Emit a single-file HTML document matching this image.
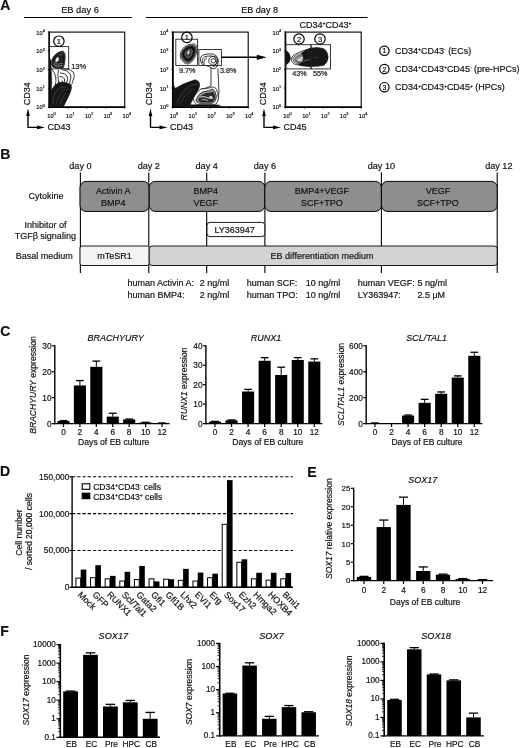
<!DOCTYPE html>
<html><head><meta charset="utf-8"><title>Figure</title>
<style>
html,body{margin:0;padding:0;background:#fff;}
body{width:520px;height:748px;overflow:hidden;font-family:"Liberation Sans",sans-serif;}
svg{display:block;will-change:transform;font-family:"Liberation Sans",sans-serif;fill:#000;}
svg text{fill:#111;stroke:#111;stroke-width:0.18px;}
</style></head><body>
<svg width="520" height="748" viewBox="0 0 520 748">
<defs>
<clipPath id="c1"><rect x="49.4" y="32.1" width="75.7" height="74.9"/></clipPath>
<clipPath id="c2"><rect x="173.0" y="32.1" width="75.2" height="74.9"/></clipPath>
<clipPath id="c3"><rect x="285.6" y="32.1" width="75.6" height="74.9"/></clipPath>
</defs>
<rect width="520" height="748" fill="#fff"/>
<g id="panelA">
<text x="0.2" y="10.1" text-anchor="start" style="font-size:14px;font-weight:bold;">A</text>
<text x="80" y="13" text-anchor="middle" style="font-size:9.3px;">EB day 6</text>
<text x="259.6" y="13" text-anchor="middle" style="font-size:9.1px;">EB day 8</text>
<line x1="24" y1="17.5" x2="132" y2="17.5" stroke="#000" stroke-width="1"/>
<line x1="146" y1="17.5" x2="367.5" y2="17.5" stroke="#000" stroke-width="1"/>
<rect x="49.40" y="32.10" width="75.30" height="74.90" fill="none" stroke="#000" stroke-width="1.1" rx="0"/>
<line x1="49.15" y1="31.6" x2="49.15" y2="107.9" stroke="#000" stroke-width="1.6"/>
<line x1="48.4" y1="107.25" x2="125.19999999999999" y2="107.25" stroke="#000" stroke-width="1.6"/>
<line x1="47.8" y1="107.0" x2="49.4" y2="107.0" stroke="#000" stroke-width="0.8"/>
<text x="44.8" y="109.4" text-anchor="end" style="font-size:5.7px">10<tspan dy="-2.3" style="font-size:3.8px">0</tspan></text>
<line x1="49.4" y1="107.0" x2="49.4" y2="108.6" stroke="#000" stroke-width="0.8"/>
<text x="51.5" y="117.6" text-anchor="middle" style="font-size:5.7px">10<tspan dy="-2.3" style="font-size:3.8px">0</tspan></text>
<line x1="47.8" y1="88.275" x2="49.4" y2="88.275" stroke="#000" stroke-width="0.8"/>
<text x="44.8" y="90.67500000000001" text-anchor="end" style="font-size:5.7px">10<tspan dy="-2.3" style="font-size:3.8px">1</tspan></text>
<line x1="68.225" y1="107.0" x2="68.225" y2="108.6" stroke="#000" stroke-width="0.8"/>
<text x="70.32499999999999" y="117.6" text-anchor="middle" style="font-size:5.7px">10<tspan dy="-2.3" style="font-size:3.8px">1</tspan></text>
<line x1="47.8" y1="69.55" x2="49.4" y2="69.55" stroke="#000" stroke-width="0.8"/>
<text x="44.8" y="71.95" text-anchor="end" style="font-size:5.7px">10<tspan dy="-2.3" style="font-size:3.8px">2</tspan></text>
<line x1="87.04999999999998" y1="107.0" x2="87.04999999999998" y2="108.6" stroke="#000" stroke-width="0.8"/>
<text x="89.14999999999998" y="117.6" text-anchor="middle" style="font-size:5.7px">10<tspan dy="-2.3" style="font-size:3.8px">2</tspan></text>
<line x1="47.8" y1="50.824999999999996" x2="49.4" y2="50.824999999999996" stroke="#000" stroke-width="0.8"/>
<text x="44.8" y="53.224999999999994" text-anchor="end" style="font-size:5.7px">10<tspan dy="-2.3" style="font-size:3.8px">3</tspan></text>
<line x1="105.87499999999999" y1="107.0" x2="105.87499999999999" y2="108.6" stroke="#000" stroke-width="0.8"/>
<text x="107.97499999999998" y="117.6" text-anchor="middle" style="font-size:5.7px">10<tspan dy="-2.3" style="font-size:3.8px">3</tspan></text>
<line x1="47.8" y1="32.099999999999994" x2="49.4" y2="32.099999999999994" stroke="#000" stroke-width="0.8"/>
<text x="44.8" y="34.49999999999999" text-anchor="end" style="font-size:5.7px">10<tspan dy="-2.3" style="font-size:3.8px">4</tspan></text>
<line x1="124.69999999999999" y1="107.0" x2="124.69999999999999" y2="108.6" stroke="#000" stroke-width="0.8"/>
<text x="126.79999999999998" y="117.6" text-anchor="middle" style="font-size:5.7px">10<tspan dy="-2.3" style="font-size:3.8px">4</tspan></text>
<text x="29.9" y="105.2" text-anchor="start" style="font-size:9px;" transform="rotate(-90 29.9 105.2)">CD34</text>
<text x="47.5" y="130.2" text-anchor="start" style="font-size:9px;">CD43</text>
<path d="M28.0 114 V127.4 H38.0" fill="none" stroke="#000" stroke-width="1.4"/>
<path d="M26.2 116 L28.0 108.6 L29.8 116 Z" fill="#000"/>
<path d="M37.0 125.6 L45.0 127.4 L37.0 129.2 Z" fill="#000"/>
<rect x="173.00" y="32.10" width="75.20" height="74.90" fill="none" stroke="#000" stroke-width="1.1" rx="0"/>
<line x1="172.75" y1="31.6" x2="172.75" y2="107.9" stroke="#000" stroke-width="1.6"/>
<line x1="172.0" y1="107.25" x2="248.7" y2="107.25" stroke="#000" stroke-width="1.6"/>
<line x1="171.4" y1="107.0" x2="173.0" y2="107.0" stroke="#000" stroke-width="0.8"/>
<text x="168.4" y="109.4" text-anchor="end" style="font-size:5.7px">10<tspan dy="-2.3" style="font-size:3.8px">0</tspan></text>
<line x1="173.0" y1="107.0" x2="173.0" y2="108.6" stroke="#000" stroke-width="0.8"/>
<text x="174.0" y="117.6" text-anchor="middle" style="font-size:5.7px">10<tspan dy="-2.3" style="font-size:3.8px">0</tspan></text>
<line x1="171.4" y1="88.275" x2="173.0" y2="88.275" stroke="#000" stroke-width="0.8"/>
<text x="168.4" y="90.67500000000001" text-anchor="end" style="font-size:5.7px">10<tspan dy="-2.3" style="font-size:3.8px">1</tspan></text>
<line x1="191.8" y1="107.0" x2="191.8" y2="108.6" stroke="#000" stroke-width="0.8"/>
<text x="192.8" y="117.6" text-anchor="middle" style="font-size:5.7px">10<tspan dy="-2.3" style="font-size:3.8px">1</tspan></text>
<line x1="171.4" y1="69.55" x2="173.0" y2="69.55" stroke="#000" stroke-width="0.8"/>
<text x="168.4" y="71.95" text-anchor="end" style="font-size:5.7px">10<tspan dy="-2.3" style="font-size:3.8px">2</tspan></text>
<line x1="210.6" y1="107.0" x2="210.6" y2="108.6" stroke="#000" stroke-width="0.8"/>
<text x="211.6" y="117.6" text-anchor="middle" style="font-size:5.7px">10<tspan dy="-2.3" style="font-size:3.8px">2</tspan></text>
<line x1="171.4" y1="50.824999999999996" x2="173.0" y2="50.824999999999996" stroke="#000" stroke-width="0.8"/>
<text x="168.4" y="53.224999999999994" text-anchor="end" style="font-size:5.7px">10<tspan dy="-2.3" style="font-size:3.8px">3</tspan></text>
<line x1="229.39999999999998" y1="107.0" x2="229.39999999999998" y2="108.6" stroke="#000" stroke-width="0.8"/>
<text x="230.39999999999998" y="117.6" text-anchor="middle" style="font-size:5.7px">10<tspan dy="-2.3" style="font-size:3.8px">3</tspan></text>
<line x1="171.4" y1="32.099999999999994" x2="173.0" y2="32.099999999999994" stroke="#000" stroke-width="0.8"/>
<text x="168.4" y="34.49999999999999" text-anchor="end" style="font-size:5.7px">10<tspan dy="-2.3" style="font-size:3.8px">4</tspan></text>
<line x1="248.2" y1="107.0" x2="248.2" y2="108.6" stroke="#000" stroke-width="0.8"/>
<text x="249.2" y="117.6" text-anchor="middle" style="font-size:5.7px">10<tspan dy="-2.3" style="font-size:3.8px">4</tspan></text>
<text x="152.4" y="105.2" text-anchor="start" style="font-size:9px;" transform="rotate(-90 152.4 105.2)">CD34</text>
<text x="170.0" y="130.2" text-anchor="start" style="font-size:9px;">CD43</text>
<path d="M150.5 114 V127.4 H160.5" fill="none" stroke="#000" stroke-width="1.4"/>
<path d="M148.7 116 L150.5 108.6 L152.3 116 Z" fill="#000"/>
<path d="M159.5 125.6 L167.5 127.4 L159.5 129.2 Z" fill="#000"/>
<rect x="285.60" y="32.10" width="75.60" height="74.90" fill="none" stroke="#000" stroke-width="1.1" rx="0"/>
<line x1="285.35" y1="31.6" x2="285.35" y2="107.9" stroke="#000" stroke-width="1.6"/>
<line x1="284.6" y1="107.25" x2="361.70000000000005" y2="107.25" stroke="#000" stroke-width="1.6"/>
<line x1="284.0" y1="107.0" x2="285.6" y2="107.0" stroke="#000" stroke-width="0.8"/>
<text x="281.0" y="109.4" text-anchor="end" style="font-size:5.7px">10<tspan dy="-2.3" style="font-size:3.8px">0</tspan></text>
<line x1="285.6" y1="107.0" x2="285.6" y2="108.6" stroke="#000" stroke-width="0.8"/>
<text x="287.5" y="117.6" text-anchor="middle" style="font-size:5.7px">10<tspan dy="-2.3" style="font-size:3.8px">0</tspan></text>
<line x1="284.0" y1="88.275" x2="285.6" y2="88.275" stroke="#000" stroke-width="0.8"/>
<text x="281.0" y="90.67500000000001" text-anchor="end" style="font-size:5.7px">10<tspan dy="-2.3" style="font-size:3.8px">1</tspan></text>
<line x1="304.5" y1="107.0" x2="304.5" y2="108.6" stroke="#000" stroke-width="0.8"/>
<text x="306.4" y="117.6" text-anchor="middle" style="font-size:5.7px">10<tspan dy="-2.3" style="font-size:3.8px">1</tspan></text>
<line x1="284.0" y1="69.55" x2="285.6" y2="69.55" stroke="#000" stroke-width="0.8"/>
<text x="281.0" y="71.95" text-anchor="end" style="font-size:5.7px">10<tspan dy="-2.3" style="font-size:3.8px">2</tspan></text>
<line x1="323.40000000000003" y1="107.0" x2="323.40000000000003" y2="108.6" stroke="#000" stroke-width="0.8"/>
<text x="325.3" y="117.6" text-anchor="middle" style="font-size:5.7px">10<tspan dy="-2.3" style="font-size:3.8px">2</tspan></text>
<line x1="284.0" y1="50.824999999999996" x2="285.6" y2="50.824999999999996" stroke="#000" stroke-width="0.8"/>
<text x="281.0" y="53.224999999999994" text-anchor="end" style="font-size:5.7px">10<tspan dy="-2.3" style="font-size:3.8px">3</tspan></text>
<line x1="342.30000000000007" y1="107.0" x2="342.30000000000007" y2="108.6" stroke="#000" stroke-width="0.8"/>
<text x="344.20000000000005" y="117.6" text-anchor="middle" style="font-size:5.7px">10<tspan dy="-2.3" style="font-size:3.8px">3</tspan></text>
<line x1="284.0" y1="32.099999999999994" x2="285.6" y2="32.099999999999994" stroke="#000" stroke-width="0.8"/>
<text x="281.0" y="34.49999999999999" text-anchor="end" style="font-size:5.7px">10<tspan dy="-2.3" style="font-size:3.8px">4</tspan></text>
<line x1="361.20000000000005" y1="107.0" x2="361.20000000000005" y2="108.6" stroke="#000" stroke-width="0.8"/>
<text x="363.1" y="117.6" text-anchor="middle" style="font-size:5.7px">10<tspan dy="-2.3" style="font-size:3.8px">4</tspan></text>
<text x="265.9" y="105.2" text-anchor="start" style="font-size:9px;" transform="rotate(-90 265.9 105.2)">CD34</text>
<text x="283.5" y="130.2" text-anchor="start" style="font-size:9px;">CD45</text>
<path d="M264.0 114 V127.4 H274.0" fill="none" stroke="#000" stroke-width="1.4"/>
<path d="M262.2 116 L264.0 108.6 L265.8 116 Z" fill="#000"/>
<path d="M273.0 125.6 L281.0 127.4 L273.0 129.2 Z" fill="#000"/>
<g clip-path="url(#c1)">
<path d="M49.3 58 L51 60 L51.3 70 L51.8 82 L50.5 106 L49.3 106 Z" fill="#111" stroke="#111" stroke-width="0.4" stroke-linejoin="round"/>
<path d="M64.2 69 Q70 68.5 73.2 72 Q75.3 75.5 73.5 79 Q72.3 81.5 72 84" fill="none" stroke="#151515" stroke-width="0.85" stroke-linejoin="round"/>
<path d="M61.5 69.5 Q67 70 70 73.5 Q72 77 70 81 L69.5 83.5" fill="none" stroke="#151515" stroke-width="0.85" stroke-linejoin="round"/>
<path d="M60 73 Q64.5 72.5 67 76 Q68.5 79.5 66.5 83" fill="none" stroke="#151515" stroke-width="0.85" stroke-linejoin="round"/>
<path d="M59.5 76.5 Q63 76 64.5 79 Q65 81.5 63.5 83.5" fill="none" stroke="#151515" stroke-width="0.85" stroke-linejoin="round"/>
<path d="M51.7 69 Q54.5 72 55.8 77 Q56.5 81 55 86" fill="none" stroke="#151515" stroke-width="0.85" stroke-linejoin="round"/>
<path d="M58.5 70 Q57 75 58.5 79.5 Q59 82 57.5 85" fill="none" stroke="#151515" stroke-width="0.85" stroke-linejoin="round"/>
<path d="M61.3 80 Q63 80.5 62.3 83" fill="none" stroke="#151515" stroke-width="0.85" stroke-linejoin="round"/>
<path d="M50 106.5 L50.5 92 Q53 86 59 82.3 Q65 81.5 71.2 84.6 Q72.3 88 70 93 Q67 100 63.5 106.5 Z" fill="#161616" stroke="#111" stroke-width="0.6" stroke-linejoin="round"/>
<path d="M53 104 Q53 95 58 89 Q62 86 66 87" fill="none" stroke="#666" stroke-width="0.5" stroke-linejoin="round"/>
<path d="M56 105 Q57 97 62 91 Q65 89 68 89.5" fill="none" stroke="#555" stroke-width="0.5" stroke-linejoin="round"/>
<path d="M59.5 105.5 Q61 99 65.5 93" fill="none" stroke="#666" stroke-width="0.5" stroke-linejoin="round"/>
<path d="M52 66.5 Q50.6 61 53.5 56.5 Q57.5 51.5 62.8 51 Q65.6 52.5 65.2 58 Q65 64 63 68.5 Q57 69.8 52 66.5 Z" fill="#3a3a3a" stroke="#111" stroke-width="0.7" stroke-linejoin="round"/>
<g transform="translate(58 60) scale(0.8) translate(-58 -60)">
<path d="M52 66.5 Q50.6 61 53.5 56.5 Q57.5 51.5 62.8 51 Q65.6 52.5 65.2 58 Q65 64 63 68.5 Q57 69.8 52 66.5 Z" fill="#222" stroke="#000" stroke-width="0.7" stroke-linejoin="round"/>
</g>
<path d="M53.5 64.5 Q57 67.5 62.5 65.5" fill="none" stroke="#ddd" stroke-width="0.6" stroke-linejoin="round"/>
<path d="M53 62.5 Q57 65.5 62.8 63.2" fill="none" stroke="#bbb" stroke-width="0.5" stroke-linejoin="round"/>
<path d="M55.7 62 Q55 59 57.5 57.2 Q59.3 57.5 58.6 60 Q57.6 62.3 55.7 62 Z" fill="#eee" stroke="#ccc" stroke-width="0.4" stroke-linejoin="round"/>
<path d="M59 55.5 Q61 54 62.5 55" fill="none" stroke="#999" stroke-width="0.5" stroke-linejoin="round"/>
</g>
<g clip-path="url(#c2)">
<path d="M173.2 84 L175 88 L175.2 106.5 L173.2 106.5 Z" fill="#111" stroke="#111" stroke-width="0.4" stroke-linejoin="round"/>
<path d="M173.2 104.6 L219 104.9 L221 106.5 L173.2 106.5 Z" fill="#111" stroke="#111" stroke-width="0.4" stroke-linejoin="round"/>
<path d="M211 67.8 L211 86 Q206 88.6 201 89" fill="none" stroke="#151515" stroke-width="0.85" stroke-linejoin="round"/>
<path d="M217.9 68.6 Q218.4 80 219 92 Q218.6 99 216 104.5" fill="none" stroke="#151515" stroke-width="0.85" stroke-linejoin="round"/>
<path d="M216.1 67.7 Q214.5 69.5 213 68.5 Q211.6 68.4 211 67.8" fill="none" stroke="#151515" stroke-width="0.85" stroke-linejoin="round"/>
<path d="M200.6 61 Q200 56 203.5 54.8 Q208 53.4 213 54 Q217.6 55.2 218.2 60 Q218.4 65 216.1 67.7" fill="none" stroke="#151515" stroke-width="0.85" stroke-linejoin="round"/>
<path d="M202.3 63 Q201.8 57.5 206 56.3 Q211.5 55.2 215 57 Q217 59.5 216.3 63.5 Q215.5 66.3 213 67" fill="none" stroke="#151515" stroke-width="0.85" stroke-linejoin="round"/>
<path d="M204 64.5 Q203.5 59 207 57.8" fill="none" stroke="#151515" stroke-width="0.85" stroke-linejoin="round"/>
<path d="M200.6 61 Q201.5 65.2 205.5 65.6 Q209 66 211 67.8" fill="none" stroke="#151515" stroke-width="0.85" stroke-linejoin="round"/>
<ellipse cx="213.3" cy="60.7" rx="4.6" ry="4.4" fill="none" stroke="#151515" stroke-width="0.85"/>
<ellipse cx="213.4" cy="60.8" rx="2.3" ry="2.2" fill="none" stroke="#151515" stroke-width="0.85"/>
<path d="M193 98 Q196 92 201 89 Q206 88.6 210 87.8 Q213.8 85.6 216 88.5 Q218.5 93 218.3 99 Q217.5 104 214 104.6 L197 104.6 Q193.5 102.5 193 98 Z" fill="#fff" stroke="#151515" stroke-width="0.8" stroke-linejoin="round"/>
<path d="M196 100.5 Q198 93.5 204 91.5 Q209 91 212.5 89 Q215.5 90.5 216.3 96 Q216 102.5 212 103.3 L199.5 103.3 Q196.5 102.5 196 100.5 Z" fill="#999" stroke="#151515" stroke-width="0.8" stroke-linejoin="round"/>
<path d="M198.5 100 Q200.5 95 205.5 93.6 Q210.5 93 213 92 Q214.7 94 214.6 98 Q214 101.8 211 102 L201 102 Q199 101.5 198.5 100 Z" fill="#2e2e2e" stroke="#111" stroke-width="0.6" stroke-linejoin="round"/>
<path d="M200 97 Q204 96 207.5 97.6 Q210.5 99.3 213 98" fill="none" stroke="#eee" stroke-width="0.9" stroke-linejoin="round"/>
<path d="M201.5 99.8 Q205 99 208 100.6" fill="none" stroke="#ddd" stroke-width="0.7" stroke-linejoin="round"/>
<ellipse cx="210.8" cy="97" rx="1.6" ry="1.1" fill="#eee"/>
<ellipse cx="205.5" cy="94.6" rx="1.7" ry="0.9" fill="#222"/>
<ellipse cx="211" cy="100.7" rx="1.6" ry="1" fill="#222"/>
<path d="M174 106.5 L174 89 Q184 83 194.8 79.8 Q199.8 80.6 199.6 85 Q199.4 88.5 197.5 91 Q194 96 191 103 Q190 105.5 188.5 106.5 Z" fill="#161616" stroke="#111" stroke-width="0.6" stroke-linejoin="round"/>
<path d="M177 103 Q180 93 190 86 Q194 84 197 84.5" fill="none" stroke="#666" stroke-width="0.5" stroke-linejoin="round"/>
<path d="M180 104.5 Q184 95 193 89" fill="none" stroke="#555" stroke-width="0.5" stroke-linejoin="round"/>
<path d="M180.2 54.5 Q180.6 50 184.5 46.8 Q189 43.6 194 43.8 Q197.3 44.5 197.2 49 Q196.8 54 194.3 58.5 Q191.5 63.5 187.5 64 Q183.5 63.6 181.3 59.5 Q180 57 180.2 54.5 Z" fill="#fff" stroke="#1a1a1a" stroke-width="0.8" stroke-linejoin="round"/>
<g transform="translate(188.6 53.3) scale(0.88) translate(-188.6 -53.3)">
<path d="M180.2 54.5 Q180.6 50 184.5 46.8 Q189 43.6 194 43.8 Q197.3 44.5 197.2 49 Q196.8 54 194.3 58.5 Q191.5 63.5 187.5 64 Q183.5 63.6 181.3 59.5 Q180 57 180.2 54.5 Z" fill="#999" stroke="#111" stroke-width="0.7954545454545454" stroke-linejoin="round"/>
</g>
<g transform="translate(188.6 53.3) scale(0.76) translate(-188.6 -53.3)">
<path d="M180.2 54.5 Q180.6 50 184.5 46.8 Q189 43.6 194 43.8 Q197.3 44.5 197.2 49 Q196.8 54 194.3 58.5 Q191.5 63.5 187.5 64 Q183.5 63.6 181.3 59.5 Q180 57 180.2 54.5 Z" fill="#333" stroke="#000" stroke-width="0.9210526315789473" stroke-linejoin="round"/>
</g>
<g transform="translate(188.6 53.3) scale(0.62) translate(-188.6 -53.3)">
<path d="M180.2 54.5 Q180.6 50 184.5 46.8 Q189 43.6 194 43.8 Q197.3 44.5 197.2 49 Q196.8 54 194.3 58.5 Q191.5 63.5 187.5 64 Q183.5 63.6 181.3 59.5 Q180 57 180.2 54.5 Z" fill="#1c1c1c" stroke="#000" stroke-width="1.129032258064516" stroke-linejoin="round"/>
</g>
<g transform="translate(188.6 53.3) scale(0.42) translate(-188.6 -53.3)">
<path d="M180.2 54.5 Q180.6 50 184.5 46.8 Q189 43.6 194 43.8 Q197.3 44.5 197.2 49 Q196.8 54 194.3 58.5 Q191.5 63.5 187.5 64 Q183.5 63.6 181.3 59.5 Q180 57 180.2 54.5 Z" fill="#3a3a3a" stroke="#888" stroke-width="1.6666666666666665" stroke-linejoin="round"/>
</g>
<ellipse cx="188.4" cy="52.6" rx="1.0" ry="1.9" transform="rotate(20 188.4 52.6)" fill="#f2f2f2"/>
</g>
<g clip-path="url(#c3)">
<path d="M285.6 50.6 Q290 52.3 290.5 57.8 Q290 63.4 285.6 64.9 Z" fill="#111" stroke="#111" stroke-width="0.5" stroke-linejoin="round"/>
<path d="M291.3 59.3 Q291.8 55.6 296 53.8 Q303 50.2 311.5 48.4 L311.5 66 Q303 66.4 296 64.6 Q291.6 63.2 291.3 59.3 Z" fill="#fff" stroke="#151515" stroke-width="0.8" stroke-linejoin="round"/>
<path d="M292.8 59.3 Q293.3 56.4 297 54.9 Q304 52 311.5 50.6 L311.5 64.8 Q303 65 297 63.5 Q293.2 62.3 292.8 59.3 Z" fill="none" stroke="#151515" stroke-width="0.7" stroke-linejoin="round"/>
<path d="M294.3 59.4 Q294.8 57.2 298 56 Q303 54 308 53 L308 63.7 Q302 63.6 298 62.5 Q294.7 61.6 294.3 59.4 Z" fill="#aaa" stroke="#151515" stroke-width="0.7" stroke-linejoin="round"/>
<path d="M295.9 59.6 Q296.4 58 299 57.1 Q302 56.2 304 55.8 L304 62.6 Q301 62.4 299 61.8 Q296.2 61.1 295.9 59.6 Z" fill="#e4e4e4" stroke="#222" stroke-width="0.6" stroke-linejoin="round"/>
<ellipse cx="299.6" cy="59.9" rx="2.4" ry="1.3" transform="rotate(-15 299.6 59.9)" fill="#fff" stroke="#333" stroke-width="0.5"/>
<path d="M301.5 53 Q305 49.6 311 48 Q318 47 323 48.4 Q327.6 50.6 328.2 57 Q327.8 62.8 323.5 65.4 Q317 66.6 309 66.4 Q302 66 298.5 64.6 Q301.5 63.4 303 60.5 Q304.3 56.5 301.5 53 Z" fill="#171717" stroke="#111" stroke-width="0.6" stroke-linejoin="round"/>
<path d="M303.5 61.2 Q306.5 59.6 309.5 59.8" fill="none" stroke="#aaa" stroke-width="0.6" stroke-linejoin="round"/>
<path d="M314 57.8 Q316.5 56.6 318.5 57.5" fill="none" stroke="#555" stroke-width="0.5" stroke-linejoin="round"/>
</g>
<rect x="49.60" y="46.60" width="19.10" height="22.20" fill="none" stroke="#222" stroke-width="0.9" rx="0"/>
<circle cx="58.9" cy="41.2" r="5.2" fill="none" stroke="#000" stroke-width="1.2"/>
<text x="58.9" y="43.936" text-anchor="middle" style="font-size:7.6px">1</text>
<text x="71.2" y="69" text-anchor="start" style="font-size:7.5px;">13%</text>
<rect x="175.80" y="39.20" width="21.80" height="26.20" fill="none" stroke="#222" stroke-width="0.9" rx="0"/>
<rect x="198.90" y="49.50" width="22.50" height="16.00" fill="none" stroke="#222" stroke-width="0.9" rx="0"/>
<circle cx="186.9" cy="37.4" r="5.2" fill="none" stroke="#000" stroke-width="1.2"/>
<text x="186.9" y="40.135999999999996" text-anchor="middle" style="font-size:7.6px">1</text>
<text x="179" y="72.5" text-anchor="start" style="font-size:7.2px;">9.7%</text>
<text x="220" y="72.5" text-anchor="start" style="font-size:7.2px;">3.8%</text>
<line x1="221.4" y1="57.3" x2="258" y2="57.3" stroke="#000" stroke-width="1.6"/>
<path d="M256.8 54.7 L266.6 57.3 L256.8 59.9 Z" fill="#000"/>
<text x="325.5" y="28" text-anchor="middle" style="font-size:9px">CD34<tspan dy="-2.8" style="font-size:5px">+</tspan><tspan dy="2.8" style="font-size:0.1px">&#8203;</tspan>CD43<tspan dy="-2.8" style="font-size:5px">+</tspan><tspan dy="2.8" style="font-size:0.1px">&#8203;</tspan></text>
<rect x="285.80" y="44.70" width="25.20" height="24.20" fill="none" stroke="#222" stroke-width="0.9" rx="0"/>
<rect x="311.00" y="44.70" width="19.50" height="24.20" fill="none" stroke="#222" stroke-width="0.9" rx="0"/>
<circle cx="299" cy="39" r="5.2" fill="none" stroke="#000" stroke-width="1.2"/>
<text x="299" y="41.736" text-anchor="middle" style="font-size:7.6px">2</text>
<circle cx="320" cy="39" r="5.2" fill="none" stroke="#000" stroke-width="1.2"/>
<text x="320" y="41.736" text-anchor="middle" style="font-size:7.6px">3</text>
<text x="292.3" y="76.2" text-anchor="start" style="font-size:7.2px;">43%</text>
<text x="313" y="76.2" text-anchor="start" style="font-size:7.2px;">55%</text>
<circle cx="384.4" cy="50.8" r="4.7" fill="none" stroke="#000" stroke-width="1.2"/>
<text x="384.4" y="53.32" text-anchor="middle" style="font-size:7px">1</text>
<text x="395" y="54.0" style="font-size:9px">CD34<tspan dy="-2.8" style="font-size:5px">+</tspan><tspan dy="2.8" style="font-size:0.1px">&#8203;</tspan>CD43<tspan dy="-2.8" style="font-size:5px">-</tspan><tspan dy="2.8" style="font-size:0.1px">&#8203;</tspan> (ECs)</text>
<circle cx="384.4" cy="69" r="4.7" fill="none" stroke="#000" stroke-width="1.2"/>
<text x="384.4" y="71.52" text-anchor="middle" style="font-size:7px">2</text>
<text x="395" y="72.2" style="font-size:9px">CD34<tspan dy="-2.8" style="font-size:5px">+</tspan><tspan dy="2.8" style="font-size:0.1px">&#8203;</tspan>CD43<tspan dy="-2.8" style="font-size:5px">+</tspan><tspan dy="2.8" style="font-size:0.1px">&#8203;</tspan>CD45<tspan dy="-2.8" style="font-size:5px">-</tspan><tspan dy="2.8" style="font-size:0.1px">&#8203;</tspan> (pre-HPCs)</text>
<circle cx="384.4" cy="87.2" r="4.7" fill="none" stroke="#000" stroke-width="1.2"/>
<text x="384.4" y="89.72" text-anchor="middle" style="font-size:7px">3</text>
<text x="395" y="90.4" style="font-size:9px">CD34<tspan dy="-2.8" style="font-size:5px">+</tspan><tspan dy="2.8" style="font-size:0.1px">&#8203;</tspan>CD43<tspan dy="-2.8" style="font-size:5px">+</tspan><tspan dy="2.8" style="font-size:0.1px">&#8203;</tspan>CD45<tspan dy="-2.8" style="font-size:5px">+</tspan><tspan dy="2.8" style="font-size:0.1px">&#8203;</tspan> (HPCs)</text>
</g>
<g id="panelB">
<text x="0.2" y="159" text-anchor="start" style="font-size:14px;font-weight:bold;">B</text>
<text x="80.4" y="169.3" text-anchor="middle" style="font-size:9.1px;">day 0</text>
<line x1="80.4" y1="172.6" x2="80.4" y2="273" stroke="#000" stroke-width="1.1"/>
<text x="148.8" y="169.3" text-anchor="middle" style="font-size:9.1px;">day 2</text>
<line x1="148.8" y1="172.6" x2="148.8" y2="273" stroke="#000" stroke-width="1.1"/>
<text x="206.7" y="169.3" text-anchor="middle" style="font-size:9.1px;">day 4</text>
<line x1="206.7" y1="172.6" x2="206.7" y2="273" stroke="#000" stroke-width="1.1"/>
<text x="264.9" y="169.3" text-anchor="middle" style="font-size:9.1px;">day 6</text>
<line x1="264.9" y1="172.6" x2="264.9" y2="273" stroke="#000" stroke-width="1.1"/>
<text x="381.4" y="169.3" text-anchor="middle" style="font-size:9.1px;">day 10</text>
<line x1="381.4" y1="172.6" x2="381.4" y2="273" stroke="#000" stroke-width="1.1"/>
<text x="498.8" y="169.3" text-anchor="middle" style="font-size:9.1px;">day 12</text>
<line x1="497.2" y1="172.6" x2="497.2" y2="273" stroke="#000" stroke-width="1.1"/>
<rect x="80.00" y="181.40" width="69.20" height="30.00" fill="#8e8e8e" stroke="#000" stroke-width="1" rx="6"/>
<text x="113.3" y="194.3" text-anchor="middle" style="font-size:9px;" fill="#111">Activin A</text>
<text x="113.3" y="206.2" text-anchor="middle" style="font-size:9px;" fill="#111">BMP4</text>
<rect x="149.20" y="181.40" width="115.60" height="30.00" fill="#8e8e8e" stroke="#000" stroke-width="1" rx="6"/>
<text x="205.7" y="194.3" text-anchor="middle" style="font-size:9px;" fill="#111">BMP4</text>
<text x="205.7" y="206.2" text-anchor="middle" style="font-size:9px;" fill="#111">VEGF</text>
<rect x="264.80" y="181.40" width="116.60" height="30.00" fill="#8e8e8e" stroke="#000" stroke-width="1" rx="6"/>
<text x="321.8" y="194.3" text-anchor="middle" style="font-size:9px;" fill="#111">BMP4+VEGF</text>
<text x="321.8" y="206.2" text-anchor="middle" style="font-size:9px;" fill="#111">SCF+TPO</text>
<rect x="381.40" y="181.40" width="115.80" height="30.00" fill="#8e8e8e" stroke="#000" stroke-width="1" rx="6"/>
<text x="437.99999999999994" y="194.3" text-anchor="middle" style="font-size:9px;" fill="#111">VEGF</text>
<text x="437.99999999999994" y="206.2" text-anchor="middle" style="font-size:9px;" fill="#111">SCF+TPO</text>
<rect x="207.00" y="222.40" width="57.80" height="14.20" fill="#fff" stroke="#000" stroke-width="0.9" rx="3"/>
<text x="234.6" y="232.8" text-anchor="middle" style="font-size:9px;">LY363947</text>
<rect x="80.00" y="246.00" width="69.20" height="19.50" fill="#f3f3f3" stroke="#000" stroke-width="0.9" rx="2"/>
<text x="114.6" y="258.8" text-anchor="middle" style="font-size:9px;">mTeSR1</text>
<rect x="149.20" y="246.00" width="348.00" height="19.50" fill="#d2d2d2" stroke="#000" stroke-width="0.9" rx="3"/>
<text x="322" y="258.8" text-anchor="middle" style="font-size:9px;">EB differentiation medium</text>
<text x="46.1" y="199.2" text-anchor="middle" style="font-size:9px;">Cytokine</text>
<text x="45.5" y="227.5" text-anchor="middle" style="font-size:9px;">Inhibitor of</text>
<text x="45.3" y="238.8" text-anchor="middle" style="font-size:9px;">TGF&#946; signaling</text>
<text x="44.2" y="258.5" text-anchor="middle" style="font-size:9px;">Basal medium</text>
<text x="127.4" y="285.5" text-anchor="start" style="font-size:9px;">human Activin A:</text>
<text x="199.8" y="285.5" text-anchor="start" style="font-size:9px;">2 ng/ml</text>
<text x="127.4" y="297.9" text-anchor="start" style="font-size:9px;">human BMP4:</text>
<text x="199.8" y="297.9" text-anchor="start" style="font-size:9px;">2 ng/ml</text>
<text x="246.8" y="285.5" text-anchor="start" style="font-size:9px;">human SCF:</text>
<text x="305.7" y="285.5" text-anchor="start" style="font-size:9px;">10 ng/ml</text>
<text x="246.8" y="297.9" text-anchor="start" style="font-size:9px;">human TPO:</text>
<text x="305.7" y="297.9" text-anchor="start" style="font-size:9px;">10 ng/ml</text>
<text x="357.8" y="285.5" text-anchor="start" style="font-size:9px;">human VEGF:</text>
<text x="417.4" y="285.5" text-anchor="start" style="font-size:9px;">5 ng/ml</text>
<text x="357.8" y="297.9" text-anchor="start" style="font-size:9px;">LY363947:</text>
<text x="417.4" y="297.9" text-anchor="start" style="font-size:9px;">2.5 &#956;M</text>
</g>
<g id="panelC">
<text x="0.2" y="336.2" text-anchor="start" style="font-size:14px;font-weight:bold;">C</text>
<rect x="57.45" y="421.01" width="12.10" height="2.59" fill="#000" stroke="none" stroke-width="1" rx="0"/>
<line x1="63.5" y1="421.00666666666666" x2="63.5" y2="420.6176666666667" stroke="#000" stroke-width="1"/>
<line x1="59.628" y1="420.6176666666667" x2="67.372" y2="420.6176666666667" stroke="#000" stroke-width="1.3"/>
<rect x="73.87" y="385.48" width="12.10" height="38.12" fill="#000" stroke="none" stroke-width="1" rx="0"/>
<line x1="79.92" y1="385.478" x2="79.92" y2="380.5506666666667" stroke="#000" stroke-width="1"/>
<line x1="76.048" y1="380.5506666666667" x2="83.792" y2="380.5506666666667" stroke="#000" stroke-width="1.3"/>
<rect x="90.29" y="366.81" width="12.10" height="56.79" fill="#000" stroke="none" stroke-width="1" rx="0"/>
<line x1="96.34" y1="366.80600000000004" x2="96.34" y2="361.1006666666667" stroke="#000" stroke-width="1"/>
<line x1="92.468" y1="361.1006666666667" x2="100.212" y2="361.1006666666667" stroke="#000" stroke-width="1.3"/>
<rect x="106.71" y="416.60" width="12.10" height="7.00" fill="#000" stroke="none" stroke-width="1" rx="0"/>
<line x1="112.76" y1="416.598" x2="112.76" y2="413.2266666666667" stroke="#000" stroke-width="1"/>
<line x1="108.888" y1="413.2266666666667" x2="116.632" y2="413.2266666666667" stroke="#000" stroke-width="1.3"/>
<rect x="123.13" y="419.45" width="12.10" height="4.15" fill="#000" stroke="none" stroke-width="1" rx="0"/>
<line x1="129.18" y1="419.4506666666667" x2="129.18" y2="419.06166666666667" stroke="#000" stroke-width="1"/>
<line x1="125.308" y1="419.06166666666667" x2="133.05200000000002" y2="419.06166666666667" stroke="#000" stroke-width="1.3"/>
<rect x="139.55" y="422.56" width="12.10" height="1.04" fill="#000" stroke="none" stroke-width="1" rx="0"/>
<line x1="145.60000000000002" y1="422.5626666666667" x2="145.60000000000002" y2="422.30333333333334" stroke="#000" stroke-width="1"/>
<line x1="141.728" y1="422.30333333333334" x2="149.47200000000004" y2="422.30333333333334" stroke="#000" stroke-width="1.3"/>
<rect x="155.97" y="423.08" width="12.10" height="0.52" fill="#000" stroke="none" stroke-width="1" rx="0"/>
<line x1="162.02" y1="423.08133333333336" x2="162.02" y2="422.9516666666667" stroke="#000" stroke-width="1"/>
<line x1="158.14800000000002" y1="422.9516666666667" x2="165.892" y2="422.9516666666667" stroke="#000" stroke-width="1.3"/>
<line x1="54.8" y1="345.2" x2="54.8" y2="424.3" stroke="#000" stroke-width="1.4"/>
<line x1="54.099999999999994" y1="423.6" x2="169.6" y2="423.6" stroke="#000" stroke-width="1.4"/>
<line x1="51.9" y1="423.6" x2="54.8" y2="423.6" stroke="#000" stroke-width="1.2"/>
<text x="51.5" y="426.588" text-anchor="end" style="font-size:8.3px;">0</text>
<line x1="51.9" y1="397.6666666666667" x2="54.8" y2="397.6666666666667" stroke="#000" stroke-width="1.2"/>
<text x="51.5" y="400.6546666666667" text-anchor="end" style="font-size:8.3px;">10</text>
<line x1="51.9" y1="371.73333333333335" x2="54.8" y2="371.73333333333335" stroke="#000" stroke-width="1.2"/>
<text x="51.5" y="374.72133333333335" text-anchor="end" style="font-size:8.3px;">20</text>
<line x1="51.9" y1="345.8" x2="54.8" y2="345.8" stroke="#000" stroke-width="1.2"/>
<text x="51.5" y="348.788" text-anchor="end" style="font-size:8.3px;">30</text>
<line x1="63.5" y1="423.6" x2="63.5" y2="427.0" stroke="#000" stroke-width="1.2"/>
<text x="63.5" y="434.6" text-anchor="middle" style="font-size:8.3px;">0</text>
<line x1="79.92" y1="423.6" x2="79.92" y2="427.0" stroke="#000" stroke-width="1.2"/>
<text x="79.92" y="434.6" text-anchor="middle" style="font-size:8.3px;">2</text>
<line x1="96.34" y1="423.6" x2="96.34" y2="427.0" stroke="#000" stroke-width="1.2"/>
<text x="96.34" y="434.6" text-anchor="middle" style="font-size:8.3px;">4</text>
<line x1="112.76" y1="423.6" x2="112.76" y2="427.0" stroke="#000" stroke-width="1.2"/>
<text x="112.76" y="434.6" text-anchor="middle" style="font-size:8.3px;">6</text>
<line x1="129.18" y1="423.6" x2="129.18" y2="427.0" stroke="#000" stroke-width="1.2"/>
<text x="129.18" y="434.6" text-anchor="middle" style="font-size:8.3px;">8</text>
<line x1="145.60000000000002" y1="423.6" x2="145.60000000000002" y2="427.0" stroke="#000" stroke-width="1.2"/>
<text x="145.60000000000002" y="434.6" text-anchor="middle" style="font-size:8.3px;">10</text>
<line x1="162.02" y1="423.6" x2="162.02" y2="427.0" stroke="#000" stroke-width="1.2"/>
<text x="162.02" y="434.6" text-anchor="middle" style="font-size:8.3px;">12</text>
<text x="115.7" y="341.2" text-anchor="middle" style="font-size:9px;font-style:italic;">BRACHYURY</text>
<text x="113.7" y="444.6" text-anchor="middle" style="font-size:8.6px;">Days of EB culture</text>
<text x="36" y="385" text-anchor="middle" transform="rotate(-90 36 385)" style="font-size:8.6px"><tspan font-style="italic">BRACHYURY</tspan> expression</text>
<rect x="208.95" y="421.66" width="12.10" height="1.95" fill="#000" stroke="none" stroke-width="1" rx="0"/>
<line x1="215.0" y1="421.65500000000003" x2="215.0" y2="421.36325000000005" stroke="#000" stroke-width="1"/>
<line x1="211.128" y1="421.36325000000005" x2="218.872" y2="421.36325000000005" stroke="#000" stroke-width="1.3"/>
<rect x="225.50" y="420.29" width="12.10" height="3.31" fill="#000" stroke="none" stroke-width="1" rx="0"/>
<line x1="231.55" y1="420.2935" x2="231.55" y2="419.90450000000004" stroke="#000" stroke-width="1"/>
<line x1="227.678" y1="419.90450000000004" x2="235.42200000000003" y2="419.90450000000004" stroke="#000" stroke-width="1.3"/>
<rect x="242.05" y="391.51" width="12.10" height="32.09" fill="#000" stroke="none" stroke-width="1" rx="0"/>
<line x1="248.1" y1="391.50750000000005" x2="248.1" y2="389.368" stroke="#000" stroke-width="1"/>
<line x1="244.228" y1="389.368" x2="251.97199999999998" y2="389.368" stroke="#000" stroke-width="1.3"/>
<rect x="258.60" y="360.78" width="12.10" height="62.82" fill="#000" stroke="none" stroke-width="1" rx="0"/>
<line x1="264.65" y1="360.7765" x2="264.65" y2="357.66450000000003" stroke="#000" stroke-width="1"/>
<line x1="260.77799999999996" y1="357.66450000000003" x2="268.522" y2="357.66450000000003" stroke="#000" stroke-width="1.3"/>
<rect x="275.15" y="374.98" width="12.10" height="48.63" fill="#000" stroke="none" stroke-width="1" rx="0"/>
<line x1="281.2" y1="374.975" x2="281.2" y2="367.195" stroke="#000" stroke-width="1"/>
<line x1="277.328" y1="367.195" x2="285.072" y2="367.195" stroke="#000" stroke-width="1.3"/>
<rect x="291.70" y="360.00" width="12.10" height="63.60" fill="#000" stroke="none" stroke-width="1" rx="0"/>
<line x1="297.75" y1="359.99850000000004" x2="297.75" y2="357.6645" stroke="#000" stroke-width="1"/>
<line x1="293.878" y1="357.6645" x2="301.622" y2="357.6645" stroke="#000" stroke-width="1.3"/>
<rect x="308.25" y="361.55" width="12.10" height="62.05" fill="#000" stroke="none" stroke-width="1" rx="0"/>
<line x1="314.3" y1="361.5545" x2="314.3" y2="358.8315" stroke="#000" stroke-width="1"/>
<line x1="310.428" y1="358.8315" x2="318.172" y2="358.8315" stroke="#000" stroke-width="1.3"/>
<line x1="205.9" y1="345.2" x2="205.9" y2="424.3" stroke="#000" stroke-width="1.4"/>
<line x1="205.20000000000002" y1="423.6" x2="322.3" y2="423.6" stroke="#000" stroke-width="1.4"/>
<line x1="203.0" y1="423.6" x2="205.9" y2="423.6" stroke="#000" stroke-width="1.2"/>
<text x="202.6" y="426.588" text-anchor="end" style="font-size:8.3px;">0</text>
<line x1="203.0" y1="404.15000000000003" x2="205.9" y2="404.15000000000003" stroke="#000" stroke-width="1.2"/>
<text x="202.6" y="407.13800000000003" text-anchor="end" style="font-size:8.3px;">10</text>
<line x1="203.0" y1="384.70000000000005" x2="205.9" y2="384.70000000000005" stroke="#000" stroke-width="1.2"/>
<text x="202.6" y="387.68800000000005" text-anchor="end" style="font-size:8.3px;">20</text>
<line x1="203.0" y1="365.25" x2="205.9" y2="365.25" stroke="#000" stroke-width="1.2"/>
<text x="202.6" y="368.238" text-anchor="end" style="font-size:8.3px;">30</text>
<line x1="203.0" y1="345.8" x2="205.9" y2="345.8" stroke="#000" stroke-width="1.2"/>
<text x="202.6" y="348.788" text-anchor="end" style="font-size:8.3px;">40</text>
<line x1="215.0" y1="423.6" x2="215.0" y2="427.0" stroke="#000" stroke-width="1.2"/>
<text x="215.0" y="434.6" text-anchor="middle" style="font-size:8.3px;">0</text>
<line x1="231.55" y1="423.6" x2="231.55" y2="427.0" stroke="#000" stroke-width="1.2"/>
<text x="231.55" y="434.6" text-anchor="middle" style="font-size:8.3px;">2</text>
<line x1="248.1" y1="423.6" x2="248.1" y2="427.0" stroke="#000" stroke-width="1.2"/>
<text x="248.1" y="434.6" text-anchor="middle" style="font-size:8.3px;">4</text>
<line x1="264.65" y1="423.6" x2="264.65" y2="427.0" stroke="#000" stroke-width="1.2"/>
<text x="264.65" y="434.6" text-anchor="middle" style="font-size:8.3px;">6</text>
<line x1="281.2" y1="423.6" x2="281.2" y2="427.0" stroke="#000" stroke-width="1.2"/>
<text x="281.2" y="434.6" text-anchor="middle" style="font-size:8.3px;">8</text>
<line x1="297.75" y1="423.6" x2="297.75" y2="427.0" stroke="#000" stroke-width="1.2"/>
<text x="297.75" y="434.6" text-anchor="middle" style="font-size:8.3px;">10</text>
<line x1="314.3" y1="423.6" x2="314.3" y2="427.0" stroke="#000" stroke-width="1.2"/>
<text x="314.3" y="434.6" text-anchor="middle" style="font-size:8.3px;">12</text>
<text x="266" y="341.2" text-anchor="middle" style="font-size:9px;font-style:italic;">RUNX1</text>
<text x="267.8" y="444.6" text-anchor="middle" style="font-size:8.6px;">Days of EB culture</text>
<text x="186.8" y="384" text-anchor="middle" transform="rotate(-90 186.8 384)" style="font-size:8.6px"><tspan font-style="italic">RUNX1</tspan> expression</text>
<rect x="368.95" y="423.08" width="12.10" height="0.52" fill="#000" stroke="none" stroke-width="1" rx="0"/>
<line x1="375.0" y1="423.08133333333336" x2="375.0" y2="422.9516666666667" stroke="#000" stroke-width="1"/>
<line x1="371.128" y1="422.9516666666667" x2="378.872" y2="422.9516666666667" stroke="#000" stroke-width="1.3"/>
<rect x="402.05" y="415.56" width="12.10" height="8.04" fill="#000" stroke="none" stroke-width="1" rx="0"/>
<line x1="408.1" y1="415.5606666666667" x2="408.1" y2="415.04200000000003" stroke="#000" stroke-width="1"/>
<line x1="404.228" y1="415.04200000000003" x2="411.97200000000004" y2="415.04200000000003" stroke="#000" stroke-width="1.3"/>
<rect x="418.60" y="402.85" width="12.10" height="20.75" fill="#000" stroke="none" stroke-width="1" rx="0"/>
<line x1="424.65" y1="402.85333333333335" x2="424.65" y2="399.3523333333334" stroke="#000" stroke-width="1"/>
<line x1="420.77799999999996" y1="399.3523333333334" x2="428.522" y2="399.3523333333334" stroke="#000" stroke-width="1.3"/>
<rect x="435.15" y="393.78" width="12.10" height="29.82" fill="#000" stroke="none" stroke-width="1" rx="0"/>
<line x1="441.2" y1="393.7766666666667" x2="441.2" y2="391.96133333333336" stroke="#000" stroke-width="1"/>
<line x1="437.328" y1="391.96133333333336" x2="445.072" y2="391.96133333333336" stroke="#000" stroke-width="1.3"/>
<rect x="451.70" y="377.57" width="12.10" height="46.03" fill="#000" stroke="none" stroke-width="1" rx="0"/>
<line x1="457.75" y1="377.5683333333333" x2="457.75" y2="375.8826666666667" stroke="#000" stroke-width="1"/>
<line x1="453.878" y1="375.8826666666667" x2="461.622" y2="375.8826666666667" stroke="#000" stroke-width="1.3"/>
<rect x="468.25" y="355.78" width="12.10" height="67.82" fill="#000" stroke="none" stroke-width="1" rx="0"/>
<line x1="474.3" y1="355.78433333333334" x2="474.3" y2="352.28333333333336" stroke="#000" stroke-width="1"/>
<line x1="470.428" y1="352.28333333333336" x2="478.172" y2="352.28333333333336" stroke="#000" stroke-width="1.3"/>
<line x1="366.2" y1="345.2" x2="366.2" y2="424.3" stroke="#000" stroke-width="1.4"/>
<line x1="365.5" y1="423.6" x2="482.3" y2="423.6" stroke="#000" stroke-width="1.4"/>
<line x1="363.3" y1="423.6" x2="366.2" y2="423.6" stroke="#000" stroke-width="1.2"/>
<text x="362.9" y="426.588" text-anchor="end" style="font-size:8.3px;">0</text>
<line x1="363.3" y1="397.6666666666667" x2="366.2" y2="397.6666666666667" stroke="#000" stroke-width="1.2"/>
<text x="362.9" y="400.6546666666667" text-anchor="end" style="font-size:8.3px;">200</text>
<line x1="363.3" y1="371.73333333333335" x2="366.2" y2="371.73333333333335" stroke="#000" stroke-width="1.2"/>
<text x="362.9" y="374.72133333333335" text-anchor="end" style="font-size:8.3px;">400</text>
<line x1="363.3" y1="345.8" x2="366.2" y2="345.8" stroke="#000" stroke-width="1.2"/>
<text x="362.9" y="348.788" text-anchor="end" style="font-size:8.3px;">600</text>
<line x1="375.0" y1="423.6" x2="375.0" y2="427.0" stroke="#000" stroke-width="1.2"/>
<text x="375.0" y="434.6" text-anchor="middle" style="font-size:8.3px;">0</text>
<line x1="391.55" y1="423.6" x2="391.55" y2="427.0" stroke="#000" stroke-width="1.2"/>
<text x="391.55" y="434.6" text-anchor="middle" style="font-size:8.3px;">2</text>
<line x1="408.1" y1="423.6" x2="408.1" y2="427.0" stroke="#000" stroke-width="1.2"/>
<text x="408.1" y="434.6" text-anchor="middle" style="font-size:8.3px;">4</text>
<line x1="424.65" y1="423.6" x2="424.65" y2="427.0" stroke="#000" stroke-width="1.2"/>
<text x="424.65" y="434.6" text-anchor="middle" style="font-size:8.3px;">6</text>
<line x1="441.2" y1="423.6" x2="441.2" y2="427.0" stroke="#000" stroke-width="1.2"/>
<text x="441.2" y="434.6" text-anchor="middle" style="font-size:8.3px;">8</text>
<line x1="457.75" y1="423.6" x2="457.75" y2="427.0" stroke="#000" stroke-width="1.2"/>
<text x="457.75" y="434.6" text-anchor="middle" style="font-size:8.3px;">10</text>
<line x1="474.3" y1="423.6" x2="474.3" y2="427.0" stroke="#000" stroke-width="1.2"/>
<text x="474.3" y="434.6" text-anchor="middle" style="font-size:8.3px;">12</text>
<text x="426.6" y="341.2" text-anchor="middle" style="font-size:9px;font-style:italic;">SCL/TAL1</text>
<text x="427" y="444.6" text-anchor="middle" style="font-size:8.6px;">Days of EB culture</text>
<text x="343.8" y="384.5" text-anchor="middle" transform="rotate(-90 343.8 384.5)" style="font-size:8.6px"><tspan font-style="italic">SCL/TAL1</tspan> expression</text>
</g>
<g id="panelD">
<text x="0" y="476.4" text-anchor="start" style="font-size:14px;font-weight:bold;">D</text>
<line x1="72.1" y1="476.8" x2="293" y2="476.8" stroke="#000" stroke-width="1.1" stroke-dasharray="3.2 2"/>
<line x1="69.5" y1="476.8" x2="72.1" y2="476.8" stroke="#000" stroke-width="1.2"/>
<text x="69.39999999999999" y="479.8" text-anchor="end" style="font-size:8.4px;">150,000</text>
<line x1="72.1" y1="513.6333333333333" x2="293" y2="513.6333333333333" stroke="#000" stroke-width="1.1" stroke-dasharray="3.2 2"/>
<line x1="69.5" y1="513.6333333333333" x2="72.1" y2="513.6333333333333" stroke="#000" stroke-width="1.2"/>
<text x="69.39999999999999" y="516.6333333333333" text-anchor="end" style="font-size:8.4px;">100,000</text>
<line x1="72.1" y1="550.4666666666667" x2="293" y2="550.4666666666667" stroke="#000" stroke-width="1.1" stroke-dasharray="3.2 2"/>
<line x1="69.5" y1="550.4666666666667" x2="72.1" y2="550.4666666666667" stroke="#000" stroke-width="1.2"/>
<text x="69.39999999999999" y="553.4666666666667" text-anchor="end" style="font-size:8.4px;">50,000</text>
<line x1="69.5" y1="587.3" x2="72.1" y2="587.3" stroke="#000" stroke-width="1.2"/>
<text x="69.39999999999999" y="590.3" text-anchor="end" style="font-size:8.4px;">0</text>
<rect x="75.90" y="578.09" width="4.80" height="9.21" fill="#fff" stroke="#000" stroke-width="1" rx="0"/>
<rect x="80.70" y="569.62" width="5.60" height="17.68" fill="#000" stroke="none" stroke-width="1" rx="0"/>
<text x="77.3" y="595.3" text-anchor="start" style="font-size:8.9px;" transform="rotate(45 77.3 595.3)">Mock</text>
<rect x="90.53" y="577.72" width="4.80" height="9.58" fill="#fff" stroke="#000" stroke-width="1" rx="0"/>
<rect x="95.33" y="565.20" width="5.60" height="22.10" fill="#000" stroke="none" stroke-width="1" rx="0"/>
<text x="91.92999999999999" y="595.3" text-anchor="start" style="font-size:8.9px;" transform="rotate(45 91.92999999999999 595.3)">GFP</text>
<rect x="105.16" y="578.83" width="4.80" height="8.47" fill="#fff" stroke="#000" stroke-width="1" rx="0"/>
<rect x="109.96" y="575.88" width="5.60" height="11.42" fill="#000" stroke="none" stroke-width="1" rx="0"/>
<text x="106.56" y="595.3" text-anchor="start" style="font-size:8.9px;" transform="rotate(45 106.56 595.3)">RUNX1</text>
<rect x="119.79" y="581.04" width="4.80" height="6.26" fill="#fff" stroke="#000" stroke-width="1" rx="0"/>
<rect x="124.59" y="571.83" width="5.60" height="15.47" fill="#000" stroke="none" stroke-width="1" rx="0"/>
<text x="121.19" y="595.3" text-anchor="start" style="font-size:8.9px;" transform="rotate(45 121.19 595.3)">Scl/Tal1</text>
<rect x="134.42" y="579.56" width="4.80" height="7.73" fill="#fff" stroke="#000" stroke-width="1" rx="0"/>
<rect x="139.22" y="565.94" width="5.60" height="21.36" fill="#000" stroke="none" stroke-width="1" rx="0"/>
<text x="135.82000000000002" y="595.3" text-anchor="start" style="font-size:8.9px;" transform="rotate(45 135.82000000000002 595.3)">Gata2</text>
<rect x="149.05" y="578.83" width="4.80" height="8.47" fill="#fff" stroke="#000" stroke-width="1" rx="0"/>
<rect x="153.85" y="581.41" width="5.60" height="5.89" fill="#000" stroke="none" stroke-width="1" rx="0"/>
<text x="150.45000000000002" y="595.3" text-anchor="start" style="font-size:8.9px;" transform="rotate(45 150.45000000000002 595.3)">Gfi1</text>
<rect x="163.68" y="579.20" width="4.80" height="8.10" fill="#fff" stroke="#000" stroke-width="1" rx="0"/>
<rect x="168.48" y="579.20" width="5.60" height="8.10" fill="#000" stroke="none" stroke-width="1" rx="0"/>
<text x="165.08" y="595.3" text-anchor="start" style="font-size:8.9px;" transform="rotate(45 165.08 595.3)">Gfi1B</text>
<rect x="178.31" y="580.30" width="4.80" height="7.00" fill="#fff" stroke="#000" stroke-width="1" rx="0"/>
<rect x="183.11" y="568.88" width="5.60" height="18.42" fill="#000" stroke="none" stroke-width="1" rx="0"/>
<text x="179.71" y="595.3" text-anchor="start" style="font-size:8.9px;" transform="rotate(45 179.71 595.3)">Lhx2</text>
<rect x="192.94" y="581.04" width="4.80" height="6.26" fill="#fff" stroke="#000" stroke-width="1" rx="0"/>
<rect x="197.74" y="572.57" width="5.60" height="14.73" fill="#000" stroke="none" stroke-width="1" rx="0"/>
<text x="194.34" y="595.3" text-anchor="start" style="font-size:8.9px;" transform="rotate(45 194.34 595.3)">EVI1</text>
<rect x="207.57" y="577.72" width="4.80" height="9.58" fill="#fff" stroke="#000" stroke-width="1" rx="0"/>
<rect x="212.37" y="573.67" width="5.60" height="13.63" fill="#000" stroke="none" stroke-width="1" rx="0"/>
<text x="208.97000000000003" y="595.3" text-anchor="start" style="font-size:8.9px;" transform="rotate(45 208.97000000000003 595.3)">Erg</text>
<rect x="222.20" y="524.31" width="4.80" height="62.98" fill="#fff" stroke="#000" stroke-width="1" rx="0"/>
<rect x="227.00" y="480.12" width="5.60" height="107.18" fill="#000" stroke="none" stroke-width="1" rx="0"/>
<text x="223.60000000000002" y="595.3" text-anchor="start" style="font-size:8.9px;" transform="rotate(45 223.60000000000002 595.3)">Sox17</text>
<rect x="236.83" y="562.25" width="4.80" height="25.05" fill="#fff" stroke="#000" stroke-width="1" rx="0"/>
<rect x="241.63" y="559.31" width="5.60" height="27.99" fill="#000" stroke="none" stroke-width="1" rx="0"/>
<text x="238.23000000000002" y="595.3" text-anchor="start" style="font-size:8.9px;" transform="rotate(45 238.23000000000002 595.3)">Ezh2</text>
<rect x="251.46" y="578.83" width="4.80" height="8.47" fill="#fff" stroke="#000" stroke-width="1" rx="0"/>
<rect x="256.26" y="572.79" width="5.60" height="14.51" fill="#000" stroke="none" stroke-width="1" rx="0"/>
<text x="252.85999999999999" y="595.3" text-anchor="start" style="font-size:8.9px;" transform="rotate(45 252.85999999999999 595.3)">Hmga2</text>
<rect x="266.09" y="580.15" width="4.80" height="7.15" fill="#fff" stroke="#000" stroke-width="1" rx="0"/>
<rect x="270.89" y="572.79" width="5.60" height="14.51" fill="#000" stroke="none" stroke-width="1" rx="0"/>
<text x="267.49000000000007" y="595.3" text-anchor="start" style="font-size:8.9px;" transform="rotate(45 267.49000000000007 595.3)">HOXB4</text>
<rect x="280.72" y="578.83" width="4.80" height="8.47" fill="#fff" stroke="#000" stroke-width="1" rx="0"/>
<rect x="285.52" y="573.08" width="5.60" height="14.22" fill="#000" stroke="none" stroke-width="1" rx="0"/>
<text x="282.12000000000006" y="595.3" text-anchor="start" style="font-size:8.9px;" transform="rotate(45 282.12000000000006 595.3)">Bmi1</text>
<line x1="72.1" y1="476.2" x2="72.1" y2="588.0" stroke="#000" stroke-width="1.4"/>
<line x1="71.39999999999999" y1="587.3" x2="293" y2="587.3" stroke="#000" stroke-width="1.4"/>
<rect x="82.20" y="483.80" width="7.60" height="5.50" fill="#fff" stroke="#000" stroke-width="1.1" rx="0"/>
<rect x="82.20" y="493.20" width="7.60" height="5.50" fill="#000" stroke="#000" stroke-width="1.1" rx="0"/>
<text x="93.2" y="489.6" style="font-size:8.55px">CD34<tspan dy="-2.8" style="font-size:5px">+</tspan><tspan dy="2.8" style="font-size:0.1px">&#8203;</tspan>CD43<tspan dy="-2.8" style="font-size:5px">-</tspan><tspan dy="2.8" style="font-size:0.1px">&#8203;</tspan> cells</text>
<text x="93.2" y="499.5" style="font-size:8.55px">CD34<tspan dy="-2.8" style="font-size:5px">+</tspan><tspan dy="2.8" style="font-size:0.1px">&#8203;</tspan>CD43<tspan dy="-2.8" style="font-size:5px">+</tspan><tspan dy="2.8" style="font-size:0.1px">&#8203;</tspan> cells</text>
<text x="22.3" y="532.5" text-anchor="middle" transform="rotate(-90 22.3 532.5)" style="font-size:8.6px">Cell number</text>
<text x="32.3" y="531.5" text-anchor="middle" transform="rotate(-90 32.3 531.5)" style="font-size:8.6px">/ sorted 20,000 cells</text>
</g>
<g id="panelE">
<text x="307.2" y="476.7" text-anchor="start" style="font-size:14px;font-weight:bold;">E</text>
<rect x="356.85" y="576.91" width="14.30" height="3.69" fill="#000" stroke="none" stroke-width="1" rx="0"/>
<line x1="364.0" y1="576.908" x2="364.0" y2="576.3542" stroke="#000" stroke-width="1"/>
<line x1="359.424" y1="576.3542" x2="368.576" y2="576.3542" stroke="#000" stroke-width="1.3"/>
<rect x="376.60" y="527.07" width="14.30" height="53.53" fill="#000" stroke="none" stroke-width="1" rx="0"/>
<line x1="383.75" y1="527.066" x2="383.75" y2="520.0512" stroke="#000" stroke-width="1"/>
<line x1="379.174" y1="520.0512" x2="388.326" y2="520.0512" stroke="#000" stroke-width="1.3"/>
<rect x="396.35" y="504.91" width="14.30" height="75.69" fill="#000" stroke="none" stroke-width="1" rx="0"/>
<line x1="403.5" y1="504.914" x2="403.5" y2="497.1608" stroke="#000" stroke-width="1"/>
<line x1="398.924" y1="497.1608" x2="408.076" y2="497.1608" stroke="#000" stroke-width="1.3"/>
<rect x="416.10" y="571.00" width="14.30" height="9.60" fill="#000" stroke="none" stroke-width="1" rx="0"/>
<line x1="423.25" y1="571.0008" x2="423.25" y2="566.9396" stroke="#000" stroke-width="1"/>
<line x1="418.674" y1="566.9396" x2="427.826" y2="566.9396" stroke="#000" stroke-width="1.3"/>
<rect x="435.85" y="574.69" width="14.30" height="5.91" fill="#000" stroke="none" stroke-width="1" rx="0"/>
<line x1="443.0" y1="574.6928" x2="443.0" y2="574.139" stroke="#000" stroke-width="1"/>
<line x1="438.424" y1="574.139" x2="447.576" y2="574.139" stroke="#000" stroke-width="1.3"/>
<rect x="455.60" y="578.94" width="14.30" height="1.66" fill="#000" stroke="none" stroke-width="1" rx="0"/>
<line x1="462.75" y1="578.9386000000001" x2="462.75" y2="578.5694" stroke="#000" stroke-width="1"/>
<line x1="458.174" y1="578.5694" x2="467.326" y2="578.5694" stroke="#000" stroke-width="1.3"/>
<rect x="475.35" y="579.86" width="14.30" height="0.74" fill="#000" stroke="none" stroke-width="1" rx="0"/>
<line x1="482.5" y1="579.8616000000001" x2="482.5" y2="579.677" stroke="#000" stroke-width="1"/>
<line x1="477.924" y1="579.677" x2="487.076" y2="579.677" stroke="#000" stroke-width="1.3"/>
<line x1="353.7" y1="487.7" x2="353.7" y2="581.3000000000001" stroke="#000" stroke-width="1.4"/>
<line x1="353.0" y1="580.6" x2="493" y2="580.6" stroke="#000" stroke-width="1.4"/>
<line x1="350.8" y1="580.6" x2="353.7" y2="580.6" stroke="#000" stroke-width="1.2"/>
<text x="350.4" y="583.4440000000001" text-anchor="end" style="font-size:7.9px;">0</text>
<line x1="350.8" y1="562.14" x2="353.7" y2="562.14" stroke="#000" stroke-width="1.2"/>
<text x="350.4" y="564.984" text-anchor="end" style="font-size:7.9px;">5</text>
<line x1="350.8" y1="543.6800000000001" x2="353.7" y2="543.6800000000001" stroke="#000" stroke-width="1.2"/>
<text x="350.4" y="546.5240000000001" text-anchor="end" style="font-size:7.9px;">10</text>
<line x1="350.8" y1="525.22" x2="353.7" y2="525.22" stroke="#000" stroke-width="1.2"/>
<text x="350.4" y="528.0640000000001" text-anchor="end" style="font-size:7.9px;">15</text>
<line x1="350.8" y1="506.76" x2="353.7" y2="506.76" stroke="#000" stroke-width="1.2"/>
<text x="350.4" y="509.604" text-anchor="end" style="font-size:7.9px;">20</text>
<line x1="350.8" y1="488.3" x2="353.7" y2="488.3" stroke="#000" stroke-width="1.2"/>
<text x="350.4" y="491.144" text-anchor="end" style="font-size:7.9px;">25</text>
<line x1="364.0" y1="580.6" x2="364.0" y2="584.0" stroke="#000" stroke-width="1.2"/>
<text x="364.0" y="592.7" text-anchor="middle" style="font-size:8.3px;">0</text>
<line x1="383.75" y1="580.6" x2="383.75" y2="584.0" stroke="#000" stroke-width="1.2"/>
<text x="383.75" y="592.7" text-anchor="middle" style="font-size:8.3px;">2</text>
<line x1="403.5" y1="580.6" x2="403.5" y2="584.0" stroke="#000" stroke-width="1.2"/>
<text x="403.5" y="592.7" text-anchor="middle" style="font-size:8.3px;">4</text>
<line x1="423.25" y1="580.6" x2="423.25" y2="584.0" stroke="#000" stroke-width="1.2"/>
<text x="423.25" y="592.7" text-anchor="middle" style="font-size:8.3px;">6</text>
<line x1="443.0" y1="580.6" x2="443.0" y2="584.0" stroke="#000" stroke-width="1.2"/>
<text x="443.0" y="592.7" text-anchor="middle" style="font-size:8.3px;">8</text>
<line x1="462.75" y1="580.6" x2="462.75" y2="584.0" stroke="#000" stroke-width="1.2"/>
<text x="462.75" y="592.7" text-anchor="middle" style="font-size:8.3px;">10</text>
<line x1="482.5" y1="580.6" x2="482.5" y2="584.0" stroke="#000" stroke-width="1.2"/>
<text x="482.5" y="592.7" text-anchor="middle" style="font-size:8.3px;">12</text>
<text x="422.8" y="483" text-anchor="middle" style="font-size:9px;font-style:italic;">SOX17</text>
<text x="425" y="604.8" text-anchor="middle" style="font-size:8.5px;">Days of EB culture</text>
<text x="332.5" y="528.6" text-anchor="middle" transform="rotate(-90 332.5 528.6)" style="font-size:8.5px"><tspan font-style="italic">SOX17</tspan> relative expression</text>
</g>
<g id="panelF">
<text x="0.2" y="635.6" text-anchor="start" style="font-size:14px;font-weight:bold;">F</text>
<rect x="63.20" y="691.37" width="14.80" height="45.93" fill="#000" stroke="none" stroke-width="1" rx="0"/>
<line x1="70.6" y1="691.3741719374974" x2="70.6" y2="691.0583738268981" stroke="#000" stroke-width="1"/>
<line x1="65.86399999999999" y1="691.0583738268981" x2="75.336" y2="691.0583738268981" stroke="#000" stroke-width="1.3"/>
<rect x="83.10" y="654.85" width="14.80" height="82.45" fill="#000" stroke="none" stroke-width="1" rx="0"/>
<line x1="90.5" y1="654.8496900989153" x2="90.5" y2="652.8261516357745" stroke="#000" stroke-width="1"/>
<line x1="85.764" y1="652.8261516357745" x2="95.236" y2="652.8261516357745" stroke="#000" stroke-width="1.3"/>
<rect x="103.00" y="706.47" width="14.80" height="30.83" fill="#000" stroke="none" stroke-width="1" rx="0"/>
<line x1="110.39999999999999" y1="706.4724698006236" x2="110.39999999999999" y2="704.3330758178872" stroke="#000" stroke-width="1"/>
<line x1="105.66399999999999" y1="704.3330758178872" x2="115.136" y2="704.3330758178872" stroke="#000" stroke-width="1.3"/>
<rect x="122.90" y="702.32" width="14.80" height="34.98" fill="#000" stroke="none" stroke-width="1" rx="0"/>
<line x1="130.29999999999998" y1="702.3244619553021" x2="130.29999999999998" y2="700.4652520467038" stroke="#000" stroke-width="1"/>
<line x1="125.56399999999998" y1="700.4652520467038" x2="135.03599999999997" y2="700.4652520467038" stroke="#000" stroke-width="1.3"/>
<rect x="142.80" y="718.76" width="14.80" height="18.54" fill="#000" stroke="none" stroke-width="1" rx="0"/>
<line x1="150.2" y1="718.76" x2="150.2" y2="712.4114834975562" stroke="#000" stroke-width="1"/>
<line x1="145.464" y1="712.4114834975562" x2="154.93599999999998" y2="712.4114834975562" stroke="#000" stroke-width="1.3"/>
<line x1="60.3" y1="644.0" x2="60.3" y2="738.0" stroke="#000" stroke-width="1.6"/>
<line x1="59.5" y1="737.3" x2="160" y2="737.3" stroke="#000" stroke-width="1.4"/>
<line x1="56.5" y1="737.3" x2="60.3" y2="737.3" stroke="#000" stroke-width="1.2"/>
<text x="55.699999999999996" y="739.8" text-anchor="end" style="font-size:8.15px;">0.1</text>
<line x1="58.099999999999994" y1="731.7189038803898" x2="60.3" y2="731.7189038803898" stroke="#000" stroke-width="0.8"/>
<line x1="58.099999999999994" y1="728.4541719374974" x2="60.3" y2="728.4541719374974" stroke="#000" stroke-width="0.8"/>
<line x1="58.099999999999994" y1="726.1378077607795" x2="60.3" y2="726.1378077607795" stroke="#000" stroke-width="0.8"/>
<line x1="58.099999999999994" y1="724.3410961196101" x2="60.3" y2="724.3410961196101" stroke="#000" stroke-width="0.8"/>
<line x1="58.099999999999994" y1="722.8730758178872" x2="60.3" y2="722.8730758178872" stroke="#000" stroke-width="0.8"/>
<line x1="58.099999999999994" y1="721.6318823381356" x2="60.3" y2="721.6318823381356" stroke="#000" stroke-width="0.8"/>
<line x1="58.099999999999994" y1="720.5567116411694" x2="60.3" y2="720.5567116411694" stroke="#000" stroke-width="0.8"/>
<line x1="58.099999999999994" y1="719.608343874995" x2="60.3" y2="719.608343874995" stroke="#000" stroke-width="0.8"/>
<line x1="56.5" y1="718.76" x2="60.3" y2="718.76" stroke="#000" stroke-width="1.2"/>
<text x="55.699999999999996" y="721.26" text-anchor="end" style="font-size:8.15px;">1</text>
<line x1="58.099999999999994" y1="713.1789038803898" x2="60.3" y2="713.1789038803898" stroke="#000" stroke-width="0.8"/>
<line x1="58.099999999999994" y1="709.9141719374975" x2="60.3" y2="709.9141719374975" stroke="#000" stroke-width="0.8"/>
<line x1="58.099999999999994" y1="707.5978077607796" x2="60.3" y2="707.5978077607796" stroke="#000" stroke-width="0.8"/>
<line x1="58.099999999999994" y1="705.8010961196102" x2="60.3" y2="705.8010961196102" stroke="#000" stroke-width="0.8"/>
<line x1="58.099999999999994" y1="704.3330758178872" x2="60.3" y2="704.3330758178872" stroke="#000" stroke-width="0.8"/>
<line x1="58.099999999999994" y1="703.0918823381356" x2="60.3" y2="703.0918823381356" stroke="#000" stroke-width="0.8"/>
<line x1="58.099999999999994" y1="702.0167116411694" x2="60.3" y2="702.0167116411694" stroke="#000" stroke-width="0.8"/>
<line x1="58.099999999999994" y1="701.068343874995" x2="60.3" y2="701.068343874995" stroke="#000" stroke-width="0.8"/>
<line x1="56.5" y1="700.22" x2="60.3" y2="700.22" stroke="#000" stroke-width="1.2"/>
<text x="55.699999999999996" y="702.72" text-anchor="end" style="font-size:8.15px;">10</text>
<line x1="58.099999999999994" y1="694.6389038803899" x2="60.3" y2="694.6389038803899" stroke="#000" stroke-width="0.8"/>
<line x1="58.099999999999994" y1="691.3741719374975" x2="60.3" y2="691.3741719374975" stroke="#000" stroke-width="0.8"/>
<line x1="58.099999999999994" y1="689.0578077607796" x2="60.3" y2="689.0578077607796" stroke="#000" stroke-width="0.8"/>
<line x1="58.099999999999994" y1="687.2610961196102" x2="60.3" y2="687.2610961196102" stroke="#000" stroke-width="0.8"/>
<line x1="58.099999999999994" y1="685.7930758178873" x2="60.3" y2="685.7930758178873" stroke="#000" stroke-width="0.8"/>
<line x1="58.099999999999994" y1="684.5518823381357" x2="60.3" y2="684.5518823381357" stroke="#000" stroke-width="0.8"/>
<line x1="58.099999999999994" y1="683.4767116411695" x2="60.3" y2="683.4767116411695" stroke="#000" stroke-width="0.8"/>
<line x1="58.099999999999994" y1="682.528343874995" x2="60.3" y2="682.528343874995" stroke="#000" stroke-width="0.8"/>
<line x1="56.5" y1="681.68" x2="60.3" y2="681.68" stroke="#000" stroke-width="1.2"/>
<text x="55.699999999999996" y="684.18" text-anchor="end" style="font-size:8.15px;">100</text>
<line x1="58.099999999999994" y1="676.0989038803898" x2="60.3" y2="676.0989038803898" stroke="#000" stroke-width="0.8"/>
<line x1="58.099999999999994" y1="672.8341719374974" x2="60.3" y2="672.8341719374974" stroke="#000" stroke-width="0.8"/>
<line x1="58.099999999999994" y1="670.5178077607795" x2="60.3" y2="670.5178077607795" stroke="#000" stroke-width="0.8"/>
<line x1="58.099999999999994" y1="668.7210961196101" x2="60.3" y2="668.7210961196101" stroke="#000" stroke-width="0.8"/>
<line x1="58.099999999999994" y1="667.2530758178872" x2="60.3" y2="667.2530758178872" stroke="#000" stroke-width="0.8"/>
<line x1="58.099999999999994" y1="666.0118823381356" x2="60.3" y2="666.0118823381356" stroke="#000" stroke-width="0.8"/>
<line x1="58.099999999999994" y1="664.9367116411694" x2="60.3" y2="664.9367116411694" stroke="#000" stroke-width="0.8"/>
<line x1="58.099999999999994" y1="663.9883438749948" x2="60.3" y2="663.9883438749948" stroke="#000" stroke-width="0.8"/>
<line x1="56.5" y1="663.14" x2="60.3" y2="663.14" stroke="#000" stroke-width="1.2"/>
<text x="55.699999999999996" y="665.64" text-anchor="end" style="font-size:8.15px;">1000</text>
<line x1="58.099999999999994" y1="657.5589038803898" x2="60.3" y2="657.5589038803898" stroke="#000" stroke-width="0.8"/>
<line x1="58.099999999999994" y1="654.2941719374975" x2="60.3" y2="654.2941719374975" stroke="#000" stroke-width="0.8"/>
<line x1="58.099999999999994" y1="651.9778077607796" x2="60.3" y2="651.9778077607796" stroke="#000" stroke-width="0.8"/>
<line x1="58.099999999999994" y1="650.1810961196102" x2="60.3" y2="650.1810961196102" stroke="#000" stroke-width="0.8"/>
<line x1="58.099999999999994" y1="648.7130758178872" x2="60.3" y2="648.7130758178872" stroke="#000" stroke-width="0.8"/>
<line x1="58.099999999999994" y1="647.4718823381356" x2="60.3" y2="647.4718823381356" stroke="#000" stroke-width="0.8"/>
<line x1="58.099999999999994" y1="646.3967116411694" x2="60.3" y2="646.3967116411694" stroke="#000" stroke-width="0.8"/>
<line x1="58.099999999999994" y1="645.4483438749949" x2="60.3" y2="645.4483438749949" stroke="#000" stroke-width="0.8"/>
<line x1="56.5" y1="644.6" x2="60.3" y2="644.6" stroke="#000" stroke-width="1.2"/>
<text x="55.699999999999996" y="647.1" text-anchor="end" style="font-size:8.15px;">10000</text>
<text x="71.6" y="747.4" text-anchor="middle" style="font-size:8.3px;">EB</text>
<text x="91.5" y="747.4" text-anchor="middle" style="font-size:8.3px;">EC</text>
<text x="111.39999999999999" y="747.4" text-anchor="middle" style="font-size:8.3px;">Pre</text>
<text x="131.29999999999998" y="747.4" text-anchor="middle" style="font-size:8.3px;">HPC</text>
<text x="151.2" y="747.4" text-anchor="middle" style="font-size:8.3px;">CB</text>
<text x="113.4" y="638.5" text-anchor="middle" style="font-size:9.2px;font-style:italic;">SOX17</text>
<text x="28.7" y="690" text-anchor="middle" transform="rotate(-90 28.7 690)" style="font-size:8.5px"><tspan font-style="italic">SOX17</tspan> expression</text>
<rect x="222.65" y="693.52" width="14.50" height="42.38" fill="#000" stroke="none" stroke-width="1" rx="0"/>
<line x1="229.9" y1="693.5232313936683" x2="229.9" y2="693.2321078246703" stroke="#000" stroke-width="1"/>
<line x1="225.26000000000002" y1="693.2321078246703" x2="234.54" y2="693.2321078246703" stroke="#000" stroke-width="1.3"/>
<rect x="242.35" y="665.57" width="14.50" height="70.33" fill="#000" stroke="none" stroke-width="1" rx="0"/>
<line x1="249.6" y1="665.567794155716" x2="249.6" y2="662.7933649483161" stroke="#000" stroke-width="1"/>
<line x1="244.96" y1="662.7933649483161" x2="254.23999999999998" y2="662.7933649483161" stroke="#000" stroke-width="1.3"/>
<rect x="262.05" y="718.78" width="14.50" height="17.12" fill="#000" stroke="none" stroke-width="1" rx="0"/>
<line x1="269.3" y1="718.7791128054456" x2="269.3" y2="716.3571078246703" stroke="#000" stroke-width="1"/>
<line x1="264.66" y1="716.3571078246703" x2="273.94" y2="716.3571078246703" stroke="#000" stroke-width="1.3"/>
<rect x="281.75" y="707.15" width="14.50" height="28.75" fill="#000" stroke="none" stroke-width="1" rx="0"/>
<line x1="289.0" y1="707.1547451241295" x2="289.0" y2="705.5656919630857" stroke="#000" stroke-width="1"/>
<line x1="284.36" y1="705.5656919630857" x2="293.64" y2="705.5656919630857" stroke="#000" stroke-width="1.3"/>
<rect x="301.45" y="712.28" width="14.50" height="23.62" fill="#000" stroke="none" stroke-width="1" rx="0"/>
<line x1="308.7" y1="712.2849974590076" x2="308.7" y2="711.7269061155586" stroke="#000" stroke-width="1"/>
<line x1="304.06" y1="711.7269061155586" x2="313.34" y2="711.7269061155586" stroke="#000" stroke-width="1.3"/>
<line x1="219.7" y1="642.8" x2="219.7" y2="736.6" stroke="#000" stroke-width="1.6"/>
<line x1="218.89999999999998" y1="735.9" x2="319" y2="735.9" stroke="#000" stroke-width="1.4"/>
<line x1="215.89999999999998" y1="735.9" x2="219.7" y2="735.9" stroke="#000" stroke-width="1.2"/>
<text x="215.1" y="738.4" text-anchor="end" style="font-size:8.15px;">0.1</text>
<line x1="217.5" y1="728.9386813502704" x2="219.7" y2="728.9386813502704" stroke="#000" stroke-width="0.8"/>
<line x1="217.5" y1="724.8665709846077" x2="219.7" y2="724.8665709846077" stroke="#000" stroke-width="0.8"/>
<line x1="217.5" y1="721.9773627005409" x2="219.7" y2="721.9773627005409" stroke="#000" stroke-width="0.8"/>
<line x1="217.5" y1="719.7363186497296" x2="219.7" y2="719.7363186497296" stroke="#000" stroke-width="0.8"/>
<line x1="217.5" y1="717.9052523348782" x2="219.7" y2="717.9052523348782" stroke="#000" stroke-width="0.8"/>
<line x1="217.5" y1="716.3571078246703" x2="219.7" y2="716.3571078246703" stroke="#000" stroke-width="0.8"/>
<line x1="217.5" y1="715.0160440508113" x2="219.7" y2="715.0160440508113" stroke="#000" stroke-width="0.8"/>
<line x1="217.5" y1="713.8331419692156" x2="219.7" y2="713.8331419692156" stroke="#000" stroke-width="0.8"/>
<line x1="215.89999999999998" y1="712.775" x2="219.7" y2="712.775" stroke="#000" stroke-width="1.2"/>
<text x="215.1" y="715.275" text-anchor="end" style="font-size:8.15px;">1</text>
<line x1="217.5" y1="705.8136813502704" x2="219.7" y2="705.8136813502704" stroke="#000" stroke-width="0.8"/>
<line x1="217.5" y1="701.7415709846077" x2="219.7" y2="701.7415709846077" stroke="#000" stroke-width="0.8"/>
<line x1="217.5" y1="698.8523627005409" x2="219.7" y2="698.8523627005409" stroke="#000" stroke-width="0.8"/>
<line x1="217.5" y1="696.6113186497296" x2="219.7" y2="696.6113186497296" stroke="#000" stroke-width="0.8"/>
<line x1="217.5" y1="694.7802523348782" x2="219.7" y2="694.7802523348782" stroke="#000" stroke-width="0.8"/>
<line x1="217.5" y1="693.2321078246703" x2="219.7" y2="693.2321078246703" stroke="#000" stroke-width="0.8"/>
<line x1="217.5" y1="691.8910440508113" x2="219.7" y2="691.8910440508113" stroke="#000" stroke-width="0.8"/>
<line x1="217.5" y1="690.7081419692156" x2="219.7" y2="690.7081419692156" stroke="#000" stroke-width="0.8"/>
<line x1="215.89999999999998" y1="689.65" x2="219.7" y2="689.65" stroke="#000" stroke-width="1.2"/>
<text x="215.1" y="692.15" text-anchor="end" style="font-size:8.15px;">10</text>
<line x1="217.5" y1="682.6886813502704" x2="219.7" y2="682.6886813502704" stroke="#000" stroke-width="0.8"/>
<line x1="217.5" y1="678.6165709846077" x2="219.7" y2="678.6165709846077" stroke="#000" stroke-width="0.8"/>
<line x1="217.5" y1="675.7273627005409" x2="219.7" y2="675.7273627005409" stroke="#000" stroke-width="0.8"/>
<line x1="217.5" y1="673.4863186497296" x2="219.7" y2="673.4863186497296" stroke="#000" stroke-width="0.8"/>
<line x1="217.5" y1="671.6552523348782" x2="219.7" y2="671.6552523348782" stroke="#000" stroke-width="0.8"/>
<line x1="217.5" y1="670.1071078246703" x2="219.7" y2="670.1071078246703" stroke="#000" stroke-width="0.8"/>
<line x1="217.5" y1="668.7660440508113" x2="219.7" y2="668.7660440508113" stroke="#000" stroke-width="0.8"/>
<line x1="217.5" y1="667.5831419692156" x2="219.7" y2="667.5831419692156" stroke="#000" stroke-width="0.8"/>
<line x1="215.89999999999998" y1="666.525" x2="219.7" y2="666.525" stroke="#000" stroke-width="1.2"/>
<text x="215.1" y="669.025" text-anchor="end" style="font-size:8.15px;">100</text>
<line x1="217.5" y1="659.5636813502704" x2="219.7" y2="659.5636813502704" stroke="#000" stroke-width="0.8"/>
<line x1="217.5" y1="655.4915709846077" x2="219.7" y2="655.4915709846077" stroke="#000" stroke-width="0.8"/>
<line x1="217.5" y1="652.6023627005409" x2="219.7" y2="652.6023627005409" stroke="#000" stroke-width="0.8"/>
<line x1="217.5" y1="650.3613186497296" x2="219.7" y2="650.3613186497296" stroke="#000" stroke-width="0.8"/>
<line x1="217.5" y1="648.5302523348782" x2="219.7" y2="648.5302523348782" stroke="#000" stroke-width="0.8"/>
<line x1="217.5" y1="646.9821078246703" x2="219.7" y2="646.9821078246703" stroke="#000" stroke-width="0.8"/>
<line x1="217.5" y1="645.6410440508113" x2="219.7" y2="645.6410440508113" stroke="#000" stroke-width="0.8"/>
<line x1="217.5" y1="644.4581419692156" x2="219.7" y2="644.4581419692156" stroke="#000" stroke-width="0.8"/>
<line x1="215.89999999999998" y1="643.4" x2="219.7" y2="643.4" stroke="#000" stroke-width="1.2"/>
<text x="215.1" y="645.9" text-anchor="end" style="font-size:8.15px;">1000</text>
<text x="230.9" y="747.4" text-anchor="middle" style="font-size:8.3px;">EB</text>
<text x="250.6" y="747.4" text-anchor="middle" style="font-size:8.3px;">EC</text>
<text x="270.3" y="747.4" text-anchor="middle" style="font-size:8.3px;">Pre</text>
<text x="290.0" y="747.4" text-anchor="middle" style="font-size:8.3px;">HPC</text>
<text x="309.7" y="747.4" text-anchor="middle" style="font-size:8.3px;">CB</text>
<text x="271.4" y="638.5" text-anchor="middle" style="font-size:9.2px;font-style:italic;">SOX7</text>
<text x="191.5" y="692" text-anchor="middle" transform="rotate(-90 191.5 692)" style="font-size:8.5px"><tspan font-style="italic">SOX7</tspan> expression</text>
<rect x="387.25" y="699.93" width="14.50" height="35.97" fill="#000" stroke="none" stroke-width="1" rx="0"/>
<line x1="394.5" y1="699.9270705652218" x2="394.5" y2="699.3121133021563" stroke="#000" stroke-width="1"/>
<line x1="389.86" y1="699.3121133021563" x2="399.14" y2="699.3121133021563" stroke="#000" stroke-width="1.3"/>
<rect x="407.00" y="649.30" width="14.50" height="86.60" fill="#000" stroke="none" stroke-width="1" rx="0"/>
<line x1="414.25" y1="649.2970371085516" x2="414.25" y2="647.6392377846203" stroke="#000" stroke-width="1"/>
<line x1="409.61" y1="647.6392377846203" x2="418.89" y2="647.6392377846203" stroke="#000" stroke-width="1.3"/>
<rect x="426.75" y="674.44" width="14.50" height="61.46" fill="#000" stroke="none" stroke-width="1" rx="0"/>
<line x1="434.0" y1="674.4389430474225" x2="434.0" y2="673.9924699726631" stroke="#000" stroke-width="1"/>
<line x1="429.36" y1="673.9924699726631" x2="438.64" y2="673.9924699726631" stroke="#000" stroke-width="1.3"/>
<rect x="446.50" y="680.40" width="14.50" height="55.50" fill="#000" stroke="none" stroke-width="1" rx="0"/>
<line x1="453.75" y1="680.4" x2="453.75" y2="679.8564001128236" stroke="#000" stroke-width="1"/>
<line x1="449.11" y1="679.8564001128236" x2="458.39" y2="679.8564001128236" stroke="#000" stroke-width="1.3"/>
<rect x="466.25" y="717.40" width="14.50" height="18.50" fill="#000" stroke="none" stroke-width="1" rx="0"/>
<line x1="473.5" y1="717.4" x2="473.5" y2="713.1366949545019" stroke="#000" stroke-width="1"/>
<line x1="468.86" y1="713.1366949545019" x2="478.14" y2="713.1366949545019" stroke="#000" stroke-width="1.3"/>
<line x1="384.2" y1="642.8" x2="384.2" y2="736.6" stroke="#000" stroke-width="1.6"/>
<line x1="383.4" y1="735.9" x2="484" y2="735.9" stroke="#000" stroke-width="1.4"/>
<line x1="380.4" y1="735.9" x2="384.2" y2="735.9" stroke="#000" stroke-width="1.2"/>
<text x="379.59999999999997" y="738.4" text-anchor="end" style="font-size:8.15px;">0.1</text>
<line x1="382.0" y1="730.3309450802163" x2="384.2" y2="730.3309450802163" stroke="#000" stroke-width="0.8"/>
<line x1="382.0" y1="727.0732567876862" x2="384.2" y2="727.0732567876862" stroke="#000" stroke-width="0.8"/>
<line x1="382.0" y1="724.7618901604327" x2="384.2" y2="724.7618901604327" stroke="#000" stroke-width="0.8"/>
<line x1="382.0" y1="722.9690549197836" x2="384.2" y2="722.9690549197836" stroke="#000" stroke-width="0.8"/>
<line x1="382.0" y1="721.5042018679026" x2="384.2" y2="721.5042018679026" stroke="#000" stroke-width="0.8"/>
<line x1="382.0" y1="720.2656862597362" x2="384.2" y2="720.2656862597362" stroke="#000" stroke-width="0.8"/>
<line x1="382.0" y1="719.1928352406491" x2="384.2" y2="719.1928352406491" stroke="#000" stroke-width="0.8"/>
<line x1="382.0" y1="718.2465135753724" x2="384.2" y2="718.2465135753724" stroke="#000" stroke-width="0.8"/>
<line x1="380.4" y1="717.4" x2="384.2" y2="717.4" stroke="#000" stroke-width="1.2"/>
<text x="379.59999999999997" y="719.9" text-anchor="end" style="font-size:8.15px;">1</text>
<line x1="382.0" y1="711.8309450802163" x2="384.2" y2="711.8309450802163" stroke="#000" stroke-width="0.8"/>
<line x1="382.0" y1="708.5732567876862" x2="384.2" y2="708.5732567876862" stroke="#000" stroke-width="0.8"/>
<line x1="382.0" y1="706.2618901604327" x2="384.2" y2="706.2618901604327" stroke="#000" stroke-width="0.8"/>
<line x1="382.0" y1="704.4690549197836" x2="384.2" y2="704.4690549197836" stroke="#000" stroke-width="0.8"/>
<line x1="382.0" y1="703.0042018679026" x2="384.2" y2="703.0042018679026" stroke="#000" stroke-width="0.8"/>
<line x1="382.0" y1="701.7656862597362" x2="384.2" y2="701.7656862597362" stroke="#000" stroke-width="0.8"/>
<line x1="382.0" y1="700.6928352406491" x2="384.2" y2="700.6928352406491" stroke="#000" stroke-width="0.8"/>
<line x1="382.0" y1="699.7465135753724" x2="384.2" y2="699.7465135753724" stroke="#000" stroke-width="0.8"/>
<line x1="380.4" y1="698.9" x2="384.2" y2="698.9" stroke="#000" stroke-width="1.2"/>
<text x="379.59999999999997" y="701.4" text-anchor="end" style="font-size:8.15px;">10</text>
<line x1="382.0" y1="693.3309450802163" x2="384.2" y2="693.3309450802163" stroke="#000" stroke-width="0.8"/>
<line x1="382.0" y1="690.0732567876862" x2="384.2" y2="690.0732567876862" stroke="#000" stroke-width="0.8"/>
<line x1="382.0" y1="687.7618901604327" x2="384.2" y2="687.7618901604327" stroke="#000" stroke-width="0.8"/>
<line x1="382.0" y1="685.9690549197836" x2="384.2" y2="685.9690549197836" stroke="#000" stroke-width="0.8"/>
<line x1="382.0" y1="684.5042018679026" x2="384.2" y2="684.5042018679026" stroke="#000" stroke-width="0.8"/>
<line x1="382.0" y1="683.2656862597362" x2="384.2" y2="683.2656862597362" stroke="#000" stroke-width="0.8"/>
<line x1="382.0" y1="682.1928352406491" x2="384.2" y2="682.1928352406491" stroke="#000" stroke-width="0.8"/>
<line x1="382.0" y1="681.2465135753724" x2="384.2" y2="681.2465135753724" stroke="#000" stroke-width="0.8"/>
<line x1="380.4" y1="680.4" x2="384.2" y2="680.4" stroke="#000" stroke-width="1.2"/>
<text x="379.59999999999997" y="682.9" text-anchor="end" style="font-size:8.15px;">100</text>
<line x1="382.0" y1="674.8309450802163" x2="384.2" y2="674.8309450802163" stroke="#000" stroke-width="0.8"/>
<line x1="382.0" y1="671.5732567876862" x2="384.2" y2="671.5732567876862" stroke="#000" stroke-width="0.8"/>
<line x1="382.0" y1="669.2618901604327" x2="384.2" y2="669.2618901604327" stroke="#000" stroke-width="0.8"/>
<line x1="382.0" y1="667.4690549197836" x2="384.2" y2="667.4690549197836" stroke="#000" stroke-width="0.8"/>
<line x1="382.0" y1="666.0042018679026" x2="384.2" y2="666.0042018679026" stroke="#000" stroke-width="0.8"/>
<line x1="382.0" y1="664.7656862597362" x2="384.2" y2="664.7656862597362" stroke="#000" stroke-width="0.8"/>
<line x1="382.0" y1="663.6928352406491" x2="384.2" y2="663.6928352406491" stroke="#000" stroke-width="0.8"/>
<line x1="382.0" y1="662.7465135753724" x2="384.2" y2="662.7465135753724" stroke="#000" stroke-width="0.8"/>
<line x1="380.4" y1="661.9" x2="384.2" y2="661.9" stroke="#000" stroke-width="1.2"/>
<text x="379.59999999999997" y="664.4" text-anchor="end" style="font-size:8.15px;">1000</text>
<line x1="382.0" y1="656.3309450802163" x2="384.2" y2="656.3309450802163" stroke="#000" stroke-width="0.8"/>
<line x1="382.0" y1="653.0732567876862" x2="384.2" y2="653.0732567876862" stroke="#000" stroke-width="0.8"/>
<line x1="382.0" y1="650.7618901604327" x2="384.2" y2="650.7618901604327" stroke="#000" stroke-width="0.8"/>
<line x1="382.0" y1="648.9690549197836" x2="384.2" y2="648.9690549197836" stroke="#000" stroke-width="0.8"/>
<line x1="382.0" y1="647.5042018679026" x2="384.2" y2="647.5042018679026" stroke="#000" stroke-width="0.8"/>
<line x1="382.0" y1="646.2656862597362" x2="384.2" y2="646.2656862597362" stroke="#000" stroke-width="0.8"/>
<line x1="382.0" y1="645.1928352406491" x2="384.2" y2="645.1928352406491" stroke="#000" stroke-width="0.8"/>
<line x1="382.0" y1="644.2465135753724" x2="384.2" y2="644.2465135753724" stroke="#000" stroke-width="0.8"/>
<line x1="380.4" y1="643.4" x2="384.2" y2="643.4" stroke="#000" stroke-width="1.2"/>
<text x="379.59999999999997" y="645.9" text-anchor="end" style="font-size:8.15px;">10000</text>
<text x="395.5" y="747.4" text-anchor="middle" style="font-size:8.3px;">EB</text>
<text x="415.25" y="747.4" text-anchor="middle" style="font-size:8.3px;">EC</text>
<text x="435.0" y="747.4" text-anchor="middle" style="font-size:8.3px;">Pre</text>
<text x="454.75" y="747.4" text-anchor="middle" style="font-size:8.3px;">HPC</text>
<text x="474.5" y="747.4" text-anchor="middle" style="font-size:8.3px;">CB</text>
<text x="436" y="638.5" text-anchor="middle" style="font-size:9.2px;font-style:italic;">SOX18</text>
<text x="351.7" y="691" text-anchor="middle" transform="rotate(-90 351.7 691)" style="font-size:8.5px"><tspan font-style="italic">SOX18</tspan> expression</text>
</g>
</svg></body></html>
